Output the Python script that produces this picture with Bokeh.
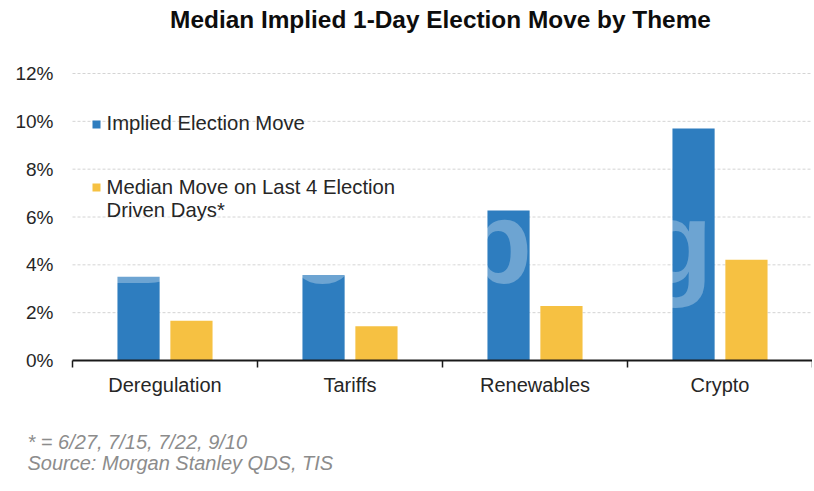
from bokeh.plotting import figure
from bokeh.models import FixedTicker, Label, NumeralTickFormatter, Range1d, ColumnDataSource, BoxAnnotation
from bokeh.embed import file_html
from bokeh.resources import INLINE
import numpy as np

# ---- data ----
categories = ["Deregulation", "Tariffs", "Renewables", "Crypto"]
implied_move = [0.035, 0.0358, 0.0627, 0.0970]
median_move = [0.0166, 0.0143, 0.0228, 0.0421]
y_ticks = [0.0, 0.02, 0.04, 0.06, 0.08, 0.10, 0.12]
series_names = ["Implied Election Move", "Median Move on Last 4 Election", "Driven Days*"]
title_text = "Median Implied 1-Day Election Move by Theme"
foot_notes = ["* = 6/27, 7/15, 7/22, 9/10", "Source: Morgan Stanley QDS, TIS"]

BLUE = "#2E7DBF"
YELLOW = "#F6C142"
FONT = "Liberation Sans"

# ---- layout (canvas pixels) ----
W, H = 812, 483
X0 = 72          # canvas x of the category axis start
CAT_W = 185      # pixels per category
AXIS_Y = 360     # canvas y of the 0% line
TOP12 = 73       # canvas y of the 12% line
N = len(categories)
YMAX = 0.12
PX_Y = YMAX / (AXIS_Y - TOP12)   # data units per pixel (y)

def dx(px):
    return (px - X0) / CAT_W

def dy(py):
    return (AXIS_Y - py) * PX_Y

p = figure(width=W, height=H, output_backend="svg", toolbar_location=None, title=None,
           x_range=Range1d(dx(0), dx(W)), y_range=Range1d(dy(H), dy(0)),
           min_border_left=0, min_border_right=0, min_border_top=0, min_border_bottom=0)
p.outline_line_color = None
p.background_fill_color = "white"
p.border_fill_color = "white"
p.grid.visible = False

# gridlines (2%..12%) limited to the plotting area
grid_y = [t for t in y_ticks if t > 0]
p.segment(x0=[0] * len(grid_y), x1=[N] * len(grid_y), y0=grid_y, y1=grid_y,
          line_color="#D4D4D4", line_dash="3 2", line_width=1)

idx = np.arange(N) + 0.5
bw = 0.228
off = 0.143
src = ColumnDataSource(dict(cat=categories, xb=idx - off, xy=idx + off,
                            implied=implied_move, median=median_move))
p.vbar(x="xb", top="implied", width=bw, bottom=0, source=src, fill_color=BLUE, line_color=None)
p.vbar(x="xy", top="median", width=bw, bottom=0, source=src, fill_color=YELLOW, line_color=None)

# y axis
ya = p.yaxis[0]
ya.fixed_location = 0
ya.ticker = FixedTicker(ticks=y_ticks)
ya.formatter = NumeralTickFormatter(format="0%")
ya.axis_line_color = None
ya.major_tick_line_color = None
ya.minor_tick_line_color = None
ya.major_tick_out = 0
ya.major_tick_in = 0
ya.major_label_standoff = 19
ya.major_label_text_font = FONT
ya.major_label_text_font_size = "19px"
ya.major_label_text_color = "#262626"

# x axis
xa = p.xaxis[0]
xa.fixed_location = 0
xa.bounds = (0, N)
xa.ticker = FixedTicker(ticks=list(idx), minor_ticks=list(range(N + 1)))
xa.major_label_overrides = {float(v): c for v, c in zip(idx, categories)}
xa.major_tick_line_color = None
xa.major_tick_out = 0
xa.major_tick_in = 0
xa.minor_tick_line_color = "#1a1a1a"
xa.minor_tick_line_width = 1.5
xa.minor_tick_out = 7
xa.minor_tick_in = 0
xa.axis_line_color = "#1a1a1a"
xa.axis_line_width = 2
xa.major_label_standoff = 6
xa.major_label_text_font = FONT
xa.major_label_text_font_size = "20px"
xa.major_label_text_color = "#262626"

# watermark
p.add_layout(Label(x=dx(406), y=dy(242), text="Bloomberg", text_align="center",
                   text_baseline="alphabetic", text_font=FONT, text_font_style="bold",
                   text_font_size="116px", text_color="white", text_alpha=0.3))

# legend (manual)
sq = 8
p.add_layout(BoxAnnotation(left=dx(92), right=dx(92 + sq), bottom=dy(128), top=dy(120),
                           fill_color=BLUE, fill_alpha=1, line_color=None))
p.add_layout(BoxAnnotation(left=dx(92), right=dx(92 + sq), bottom=dy(191), top=dy(183),
                           fill_color=YELLOW, fill_alpha=1, line_color=None))
for txt, by in zip(series_names, [122.5, 186, 209]):
    p.add_layout(Label(x=dx(106), y=dy(by), text=txt, text_baseline="alphabetic",
                       text_font=FONT, text_font_size="20.3px", text_color="#262626"))

# title
p.add_layout(Label(x=dx(440), y=dy(18.5), text=title_text, text_align="center",
                   text_baseline="alphabetic", text_font=FONT, text_font_style="bold",
                   text_font_size="24.4px", text_color="#0d0d0d"))

# footnotes
for txt, by in zip(foot_notes, [441.5, 462.5]):
    p.add_layout(Label(x=dx(27), y=dy(by), text=txt, text_baseline="alphabetic",
                       text_font=FONT, text_font_style="italic", text_font_size="20px",
                       text_color="#8C8C8C"))

open("out.html", "w").write(file_html(p, INLINE))
